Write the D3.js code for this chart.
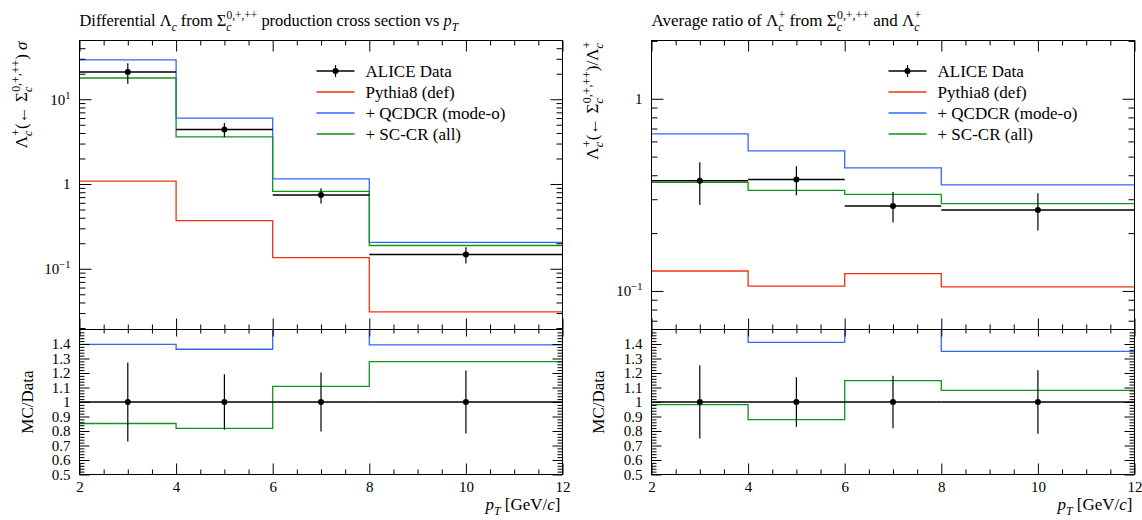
<!DOCTYPE html>
<html>
<head>
<meta charset="utf-8">
<script src="https://cdn.jsdelivr.net/npm/d3@7"></script>
<style>
body { margin: 0; background: #fff; }
svg text { font-family: "Liberation Serif", "DejaVu Serif", serif; fill: #000; }
</style>
</head>
<body>
<svg width="1142" height="520"></svg>
<script>
// bins in pT [GeV/c]
const binEdges = [2, 4, 6, 8, 12];
const binCentres = [3, 5, 7, 10];

// left panel: differential Lambda_c from Sigma_c cross section
const xsecData = [20.9, 4.4, 0.74, 0.147];
const xsecErr = [5.7, 0.84, 0.15, 0.032];
const xsecPythia = [1.08, 0.37, 0.135, 0.031];
const xsecQCDCR = [29.2, 6.0, 1.15, 0.205];
const xsecSCCR = [17.8, 3.6, 0.82, 0.188];

// right panel: average ratio
const ratioData = [0.374, 0.38, 0.277, 0.264];
const ratioErr = [0.094, 0.065, 0.05, 0.058];
const ratioPythia = [0.127, 0.106, 0.123, 0.105];
const ratioQCDCR = [0.657, 0.536, 0.437, 0.356];
const ratioSCCR = [0.367, 0.334, 0.318, 0.285];

const legendLabels = ["ALICE Data", "Pythia8 (def)", "+ QCDCR (mode-o)", "+ SC-CR (all)"];
const mcColors = ["#ee3311", "#3366ff", "#109618"];
const xMajor = [2, 4, 6, 8, 10, 12];
const ratioMajor = [0.5, 0.6, 0.7, 0.8, 0.9, 1.0, 1.1, 1.2, 1.3, 1.4];

const svg = d3.select("svg");
const W = 483, yTop = 40.5, yMid = 329.5, yBot = 474.5;

// text with sub/superscripts: parts = [text, kind, dx]
function rich(sel, parts, size) {
    let cur = 0;
    parts.forEach(function (p) {
        const kind = p[1] || "";
        const ts = sel.append("tspan").text(p[0]);
        let target = 0, fs = size;
        if (kind.includes("sub")) { target = 0.3 * size; fs = 0.7 * size; }
        if (kind.includes("sup")) { target = -0.4 * size; fs = 0.7 * size; }
        if (target !== cur) ts.attr("dy", target - cur);
        ts.attr("font-size", fs);
        if (kind.includes("it")) ts.attr("font-style", "italic");
        if (p[2]) ts.attr("dx", p[2]);
        cur = target;
    });
}

function panel(o) {
    const g = svg.append("g");
    const x = d3.scaleLinear().domain([2, 12]).range([o.x0, o.x0 + W]);
    const y = d3.scaleLog().domain(o.yDomain).range([yMid, yTop]);
    const yr = d3.scaleLinear().domain([0.5, 1.5]).range([yBot, yMid]);

    const xMinor = d3.range(2, 12.01, 0.5).filter(v => v % 2 !== 0);
    const allY = y.ticks().filter(v => v >= o.yDomain[0] && v <= o.yDomain[1]);
    const yMaj = allY.filter(v => Math.abs(Math.log10(v) - Math.round(Math.log10(v))) < 1e-6);
    const yMin = allY.filter(v => yMaj.indexOf(v) < 0);
    const rMinor = d3.range(0.5, 1.501, 0.02).filter(v => Math.abs(v * 10 - Math.round(v * 10)) > 1e-6);

    // clip paths
    const cid = "c" + o.id;
    const defs = svg.append("defs");
    defs.append("clipPath").attr("id", cid + "m").append("rect")
        .attr("x", o.x0).attr("y", yTop).attr("width", W).attr("height", yMid - yTop);
    defs.append("clipPath").attr("id", cid + "r").append("rect")
        .attr("x", o.x0).attr("y", yMid).attr("width", W).attr("height", yBot - yMid);

    const stepLine = function (sc, vals) {
        const pts = binEdges.map((e, i) => [e, vals[Math.min(i, vals.length - 1)]]);
        return d3.line().x(d => x(d[0])).y(d => sc(d[1])).curve(d3.curveStepAfter)(pts);
    };

    // main panel
    const gm = g.append("g").attr("clip-path", "url(#" + cid + "m)");
    o.mc.forEach(function (s, i) {
        gm.append("path").attr("d", stepLine(y, s)).attr("fill", "none")
            .attr("stroke", mcColors[i]).attr("stroke-width", 1.3);
    });
    o.data.forEach(function (v, i) {
        gm.append("line").attr("x1", x(binEdges[i])).attr("x2", x(binEdges[i + 1]))
            .attr("y1", y(v)).attr("y2", y(v)).attr("stroke", "#000").attr("stroke-width", 1.5);
        gm.append("line").attr("x1", x(binCentres[i])).attr("x2", x(binCentres[i]))
            .attr("y1", y(v - o.err[i])).attr("y2", y(v + o.err[i])).attr("stroke", "#000").attr("stroke-width", 1.2);
        gm.append("circle").attr("cx", x(binCentres[i])).attr("cy", y(v)).attr("r", 3).attr("fill", "#000");
    });

    // ratio panel
    const gr = g.append("g").attr("clip-path", "url(#" + cid + "r)");
    o.mc.forEach(function (s, i) {
        gr.append("path").attr("d", stepLine(yr, s.map((v, j) => v / o.data[j]))).attr("fill", "none")
            .attr("stroke", mcColors[i]).attr("stroke-width", 1.3);
    });
    o.data.forEach(function (v, i) {
        gr.append("line").attr("x1", x(binEdges[i])).attr("x2", x(binEdges[i + 1]))
            .attr("y1", yr(1)).attr("y2", yr(1)).attr("stroke", "#000").attr("stroke-width", 1.5);
        gr.append("line").attr("x1", x(binCentres[i])).attr("x2", x(binCentres[i]))
            .attr("y1", yr(1 - o.err[i] / v)).attr("y2", yr(1 + o.err[i] / v)).attr("stroke", "#000").attr("stroke-width", 1.2);
        gr.append("circle").attr("cx", x(binCentres[i])).attr("cy", yr(1)).attr("r", 3).attr("fill", "#000");
    });

    // axes (ticks point inwards)
    const ax = function (axis, tx, ty, fmt) {
        const a = g.append("g").attr("transform", "translate(" + tx + "," + ty + ")").call(axis);
        a.select(".domain").remove();
        a.attr("font-family", null);
        a.selectAll("line").attr("stroke", "#000");
        a.selectAll("text").attr("font-size", 15);
        if (!fmt) a.selectAll("text").remove();
        return a;
    };
    const noFmt = () => "";
    // x axes
    ax(d3.axisTop(x).tickValues(xMajor).tickSize(-11).tickFormat(noFmt), 0, yTop);
    ax(d3.axisTop(x).tickValues(xMinor).tickSize(-5).tickFormat(noFmt), 0, yTop);
    ax(d3.axisBottom(x).tickValues(xMajor).tickSize(-11).tickFormat(noFmt), 0, yMid);
    ax(d3.axisBottom(x).tickValues(xMinor).tickSize(-5).tickFormat(noFmt), 0, yMid);
    ax(d3.axisTop(x).tickValues(xMajor).tickSize(-7).tickFormat(noFmt), 0, yMid);
    ax(d3.axisTop(x).tickValues(xMinor).tickSize(-4).tickFormat(noFmt), 0, yMid);
    ax(d3.axisBottom(x).tickValues(xMinor).tickSize(-5).tickFormat(noFmt), 0, yBot);
    ax(d3.axisBottom(x).tickValues(xMajor).tickSize(-11).tickPadding(7).tickFormat(d3.format("d")), 0, yBot, true);

    // y axes main
    const yl = ax(d3.axisLeft(y).tickValues(yMaj).tickSize(-12).tickPadding(9).tickFormat(d => d), o.x0, 0, true);
    yl.selectAll("text").each(function (d) {
        const t = d3.select(this).text(null);
        const e = Math.round(Math.log10(d));
        if (e === 0) rich(t, [["1", ""]], 15);
        else rich(t, [["10", ""], [e < 0 ? "\u2212" + (-e) : String(e), "sup"]], 15);
    });
    ax(d3.axisLeft(y).tickValues(yMin).tickSize(-6).tickFormat(noFmt), o.x0, 0);
    ax(d3.axisRight(y).tickValues(yMaj).tickSize(-12).tickFormat(noFmt), o.x0 + W, 0);
    ax(d3.axisRight(y).tickValues(yMin).tickSize(-6).tickFormat(noFmt), o.x0 + W, 0);

    // y axes ratio
    ax(d3.axisLeft(yr).tickValues(ratioMajor).tickSize(-10).tickPadding(9)
        .tickFormat(d => Math.abs(d - 1) < 1e-6 ? "1" : d3.format(".1f")(d)), o.x0, 0, true);
    ax(d3.axisLeft(yr).tickValues(rMinor).tickSize(-5).tickFormat(noFmt), o.x0, 0);
    ax(d3.axisRight(yr).tickValues(ratioMajor).tickSize(-10).tickFormat(noFmt), o.x0 + W, 0);
    ax(d3.axisRight(yr).tickValues(rMinor).tickSize(-5).tickFormat(noFmt), o.x0 + W, 0);

    // frames
    g.append("rect").attr("x", o.x0).attr("y", yTop).attr("width", W).attr("height", yMid - yTop)
        .attr("fill", "none").attr("stroke", "#000").attr("stroke-width", 1);
    g.append("rect").attr("x", o.x0).attr("y", yMid).attr("width", W).attr("height", yBot - yMid)
        .attr("fill", "none").attr("stroke", "#000").attr("stroke-width", 1);

    // title and labels
    rich(g.append("text").attr("x", o.x0).attr("y", 26).attr("font-size", o.titleSize), o.title, o.titleSize);
    rich(g.append("text").attr("transform", "translate(" + o.ylx + "," + (yTop + 1) + ") rotate(-90)")
        .attr("text-anchor", "end").attr("font-size", 17), o.ylabel, 17);
    g.append("text").attr("transform", "translate(" + (o.ylx + 6) + "," + ((yMid + yBot) / 2) + ") rotate(-90)")
        .attr("text-anchor", "middle").attr("font-size", 17).text("MC/Data");
    rich(g.append("text").attr("x", o.x0 + W - 2).attr("y", 510).attr("text-anchor", "end").attr("font-size", 17),
        [["p", "it"], ["T", "subit"], [" [GeV/", ""], ["c", "it"], ["]", ""]], 17);

    // legend
    const lg = g.append("g").attr("transform", "translate(" + (o.x0 + 237) + "," + 71 + ")");
    legendLabels.forEach(function (l, i) {
        const row = lg.append("g").attr("transform", "translate(0," + (i * 21) + ")");
        row.append("line").attr("x1", 0).attr("x2", 38).attr("y1", 0).attr("y2", 0)
            .attr("stroke", i === 0 ? "#000" : mcColors[i - 1]).attr("stroke-width", i === 0 ? 1.5 : 1.3);
        if (i === 0) {
            row.append("line").attr("x1", 19).attr("x2", 19).attr("y1", -6).attr("y2", 6).attr("stroke", "#000").attr("stroke-width", 1.2);
            row.append("circle").attr("cx", 19).attr("cy", 0).attr("r", 3).attr("fill", "#000");
        }
        row.append("text").attr("x", 49).attr("y", 0).attr("dy", "0.33em").attr("font-size", 17).text(l);
    });
}

panel({
    id: "L", x0: 79.5, yDomain: [0.0192, 49.3], ylx: 27, titleSize: 16.4,
    data: xsecData, err: xsecErr, mc: [xsecPythia, xsecQCDCR, xsecSCCR],
    title: [["Differential \u039b", ""], ["c", "subit"], [" from \u03a3", ""], ["c", "subit"], ["0,+,++", "sup", -5],
        [" production cross section vs ", ""], ["p", "it"], ["T", "subit"]],
    ylabel: [["\u039b", ""], ["c", "subit"], ["+", "sup", -5], ["(\u2190 \u03a3", ""], ["c", "subit"], ["0,+,++", "sup", -5],
        [") ", ""], ["\u03c3", "it"]]
});

panel({
    id: "R", x0: 651.5, yDomain: [0.063, 2.01], ylx: 598, titleSize: 17,
    data: ratioData, err: ratioErr, mc: [ratioPythia, ratioQCDCR, ratioSCCR],
    title: [["Average ratio of \u039b", ""], ["c", "subit"], ["+", "sup", -5], [" from \u03a3", ""], ["c", "subit"], ["0,+,++", "sup", -5],
        [" and \u039b", ""], ["c", "subit"], ["+", "sup", -5]],
    ylabel: [["\u039b", ""], ["c", "subit"], ["+", "sup", -5], ["(\u2190 \u03a3", ""], ["c", "subit"], ["0,+,++", "sup", -5],
        [")/\u039b", ""], ["c", "subit"], ["+", "sup", -5]]
});
</script>
</body>
</html>
